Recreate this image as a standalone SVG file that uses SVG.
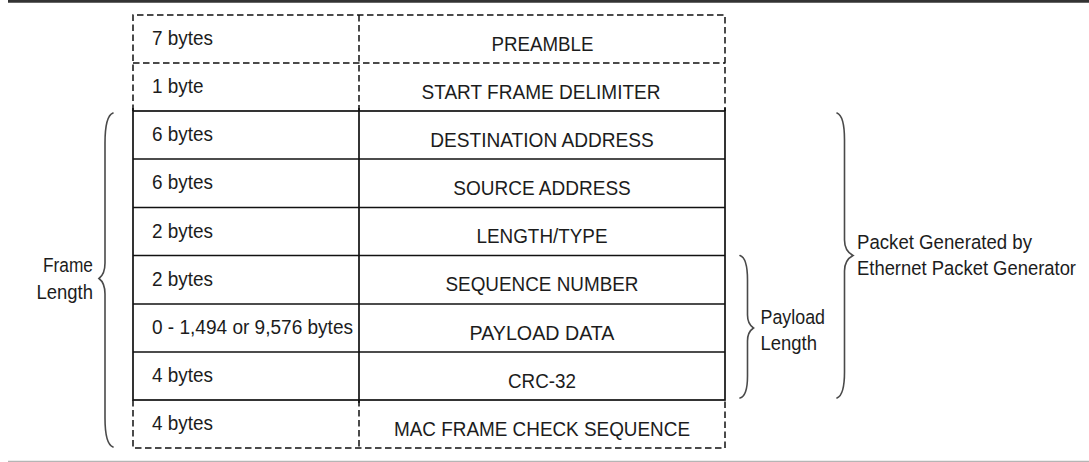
<svg xmlns="http://www.w3.org/2000/svg" width="1089" height="462" viewBox="0 0 1089 462">
  <style>
    text { font-family: "Liberation Sans", Arial, Helvetica, sans-serif; font-size: 20.5px; fill: #1c1c1c; }
    .size { text-anchor: start; }
    .field { text-anchor: middle; }
    .lbl-r { text-anchor: end; }
    .solid { stroke: #111; stroke-width: 1.7; fill: none; }
    .dash { stroke: #111; stroke-width: 1.5; fill: none; stroke-dasharray: 6.5 3.5; }
    .brace { stroke: #4a4a4a; stroke-width: 1.6; fill: none; stroke-linecap: round; }
  </style>

  <rect x="0" y="0" width="1089" height="462" fill="#ffffff"/>

  <!-- page rules -->
  <line x1="8" y1="1.3" x2="1089" y2="1.3" stroke="#333" stroke-width="2.7"/>
  <line x1="8" y1="461.5" x2="1089" y2="461.5" stroke="#b5b5b5" stroke-width="1.4"/>

  <!-- frame grid: dashed rows (preamble, SFD, FCS) and solid rows -->
  <g id="frame-grid">
    <!-- dashed upper block -->
    <path class="dash" d="M133,111 V15 H725 V111"/>
    <line class="dash" x1="133" y1="63" x2="725" y2="63"/>
    <line class="dash" x1="359" y1="15" x2="359" y2="111"/>
    <!-- dashed lower block -->
    <path class="dash" d="M133,400 V448 H725 V400"/>
    <line class="dash" x1="359" y1="400" x2="359" y2="448"/>
    <!-- solid block -->
    <rect class="solid" x="133" y="111" width="592" height="289"/>
    <line class="solid" x1="359" y1="108" x2="359" y2="403"/>
    <line class="solid" x1="133" y1="108" x2="133" y2="111"/>
    <line class="solid" x1="725" y1="108" x2="725" y2="111"/>
    <line class="solid" x1="133" y1="159" x2="725" y2="159"/>
    <line class="solid" x1="133" y1="207.5" x2="725" y2="207.5"/>
    <line class="solid" x1="133" y1="255.5" x2="725" y2="255.5"/>
    <line class="solid" x1="133" y1="304" x2="725" y2="304"/>
    <line class="solid" x1="133" y1="352" x2="725" y2="352"/>
  </g>

  <!-- frame fields -->
  <g id="row-preamble">
    <text class="size" x="152" y="45" textLength="61" lengthAdjust="spacingAndGlyphs">7 bytes</text>
    <text class="field" x="542.5" y="51" textLength="102" lengthAdjust="spacingAndGlyphs">PREAMBLE</text>
  </g>
  <g id="row-sfd">
    <text class="size" x="152" y="93" textLength="51.5" lengthAdjust="spacingAndGlyphs">1 byte</text>
    <text class="field" x="541" y="98.5" textLength="239" lengthAdjust="spacingAndGlyphs">START FRAME DELIMITER</text>
  </g>
  <g id="row-dest">
    <text class="size" x="152" y="141" textLength="61" lengthAdjust="spacingAndGlyphs">6 bytes</text>
    <text class="field" x="542" y="146.5" textLength="223.5" lengthAdjust="spacingAndGlyphs">DESTINATION ADDRESS</text>
  </g>
  <g id="row-src">
    <text class="size" x="152" y="189" textLength="61" lengthAdjust="spacingAndGlyphs">6 bytes</text>
    <text class="field" x="542" y="194.5" textLength="177.5" lengthAdjust="spacingAndGlyphs">SOURCE ADDRESS</text>
  </g>
  <g id="row-lentype">
    <text class="size" x="152" y="237.5" textLength="61" lengthAdjust="spacingAndGlyphs">2 bytes</text>
    <text class="field" x="542" y="243" textLength="131" lengthAdjust="spacingAndGlyphs">LENGTH/TYPE</text>
  </g>
  <g id="row-seq">
    <text class="size" x="152" y="285.5" textLength="61" lengthAdjust="spacingAndGlyphs">2 bytes</text>
    <text class="field" x="542" y="291" textLength="193" lengthAdjust="spacingAndGlyphs">SEQUENCE NUMBER</text>
  </g>
  <g id="row-payload">
    <text class="size" x="152" y="334" textLength="201" lengthAdjust="spacingAndGlyphs">0 - 1,494 or 9,576 bytes</text>
    <text class="field" x="542" y="339.5" textLength="145" lengthAdjust="spacingAndGlyphs">PAYLOAD DATA</text>
  </g>
  <g id="row-crc">
    <text class="size" x="152" y="382" textLength="61" lengthAdjust="spacingAndGlyphs">4 bytes</text>
    <text class="field" x="542" y="387.5" textLength="68" lengthAdjust="spacingAndGlyphs">CRC-32</text>
  </g>
  <g id="row-fcs">
    <text class="size" x="152" y="430" textLength="61" lengthAdjust="spacingAndGlyphs">4 bytes</text>
    <text class="field" x="542" y="435.5" textLength="296" lengthAdjust="spacingAndGlyphs">MAC FRAME CHECK SEQUENCE</text>
  </g>

  <!-- span braces -->
  <g id="braces">
    <path class="brace" d="M113,113 Q105,116 105,143 L105,263 Q105,274 99,278.5 Q105,283 105,294 L105,418 Q105,444 113,447"/>
    <path class="brace" d="M837,113 Q844.5,116 844.5,140 L844.5,240 Q844.5,251 853,255.5 Q844.5,260 844.5,271 L844.5,372 Q844.5,395 837,398"/>
    <path class="brace" d="M740,255.5 Q747.5,258 747.5,280 L747.5,315 Q747.5,324 753.5,328 Q747.5,332 747.5,341 L747.5,376 Q747.5,396 740,398"/>
  </g>

  <!-- span labels -->
  <g id="label-frame-length">
    <text class="lbl-r" x="93" y="272" textLength="50" lengthAdjust="spacingAndGlyphs">Frame</text>
    <text class="lbl-r" x="93" y="298.5" textLength="56.5" lengthAdjust="spacingAndGlyphs">Length</text>
  </g>
  <g id="label-payload-length">
    <text class="size" x="760.5" y="323.5" textLength="64.5" lengthAdjust="spacingAndGlyphs">Payload</text>
    <text class="size" x="760.5" y="350" textLength="56.5" lengthAdjust="spacingAndGlyphs">Length</text>
  </g>
  <g id="label-packet-generated">
    <text class="size" x="857" y="248.5" textLength="175" lengthAdjust="spacingAndGlyphs">Packet Generated by</text>
    <text class="size" x="857" y="275" textLength="219" lengthAdjust="spacingAndGlyphs">Ethernet Packet Generator</text>
  </g>
</svg>
